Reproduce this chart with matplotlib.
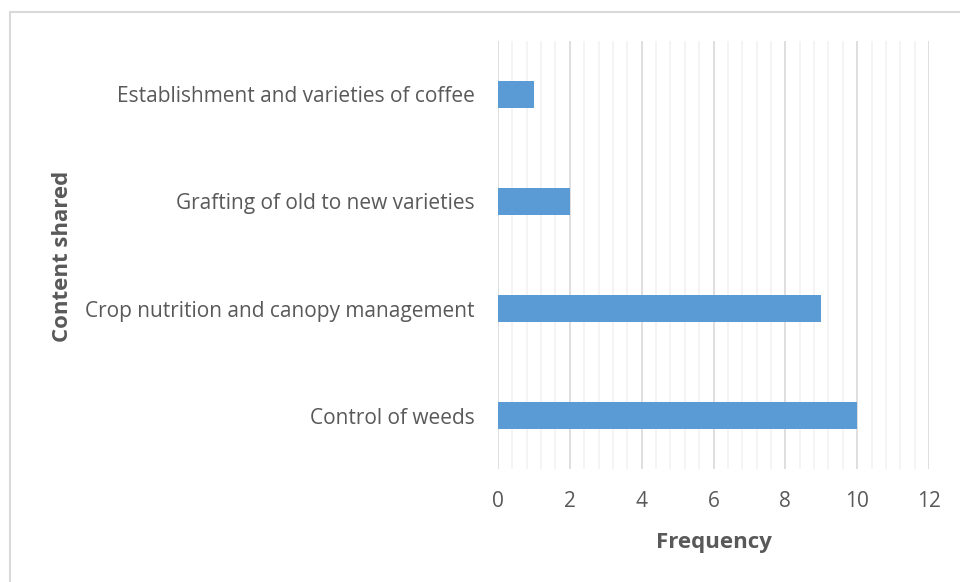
import matplotlib.pyplot as plt
import numpy as np
from matplotlib.patches import Rectangle

# data
categories = ['Control of weeds', 'Crop nutrition and canopy management',
              'Grafting of old to new varieties', 'Establishment and varieties of coffee']
frequency = [10, 9, 2, 1]
xticks = [0, 2, 4, 6, 8, 10, 12]

plt.rcParams['font.family'] = ['Open Sans', 'DejaVu Sans']
txt = '#595959'

fig = plt.figure(figsize=(9.6, 5.82), dpi=100)
ax = fig.add_axes([498/960, 1-469/582, (929-498)/960, (469-41)/582])

# outer chart border (top and left visible, runs off the image)
fig.patches.append(Rectangle((10/960, -0.1), 2, 1.1 - 12/582, transform=fig.transFigure,
                             fill=False, edgecolor='#d9d9d9', linewidth=1.5))

y = np.arange(len(categories))
ax.barh(y, frequency, height=0.25, color='#5B9BD5', zorder=3)

ax.set_xlim(0, 12)
ax.set_ylim(-0.5, len(categories) - 0.5)
ax.set_xticks(xticks)
ax.set_xticks(np.arange(0, 12.01, 0.4), minor=True)
ax.grid(axis='x', which='minor', color='#f2f2f2', linewidth=1.2, zorder=0)
ax.grid(axis='x', which='major', color='#d9d9d9', linewidth=1.2, zorder=1)
ax.set_yticks(y)
ax.set_yticklabels(categories)
ax.tick_params(axis='both', which='both', length=0, labelsize=15, labelcolor=txt)
ax.tick_params(axis='x', pad=16)
ax.tick_params(axis='y', pad=17)
for s in ax.spines.values():
    s.set_visible(False)

ax.set_xlabel('Frequency', fontsize=16, fontweight='bold', color=txt, labelpad=14)
fig.text(62/960, 1-256/582, 'Content shared', rotation=90, fontsize=16,
         fontweight='bold', color=txt, ha='center', va='center')

fig.savefig('out.png', dpi=100)
